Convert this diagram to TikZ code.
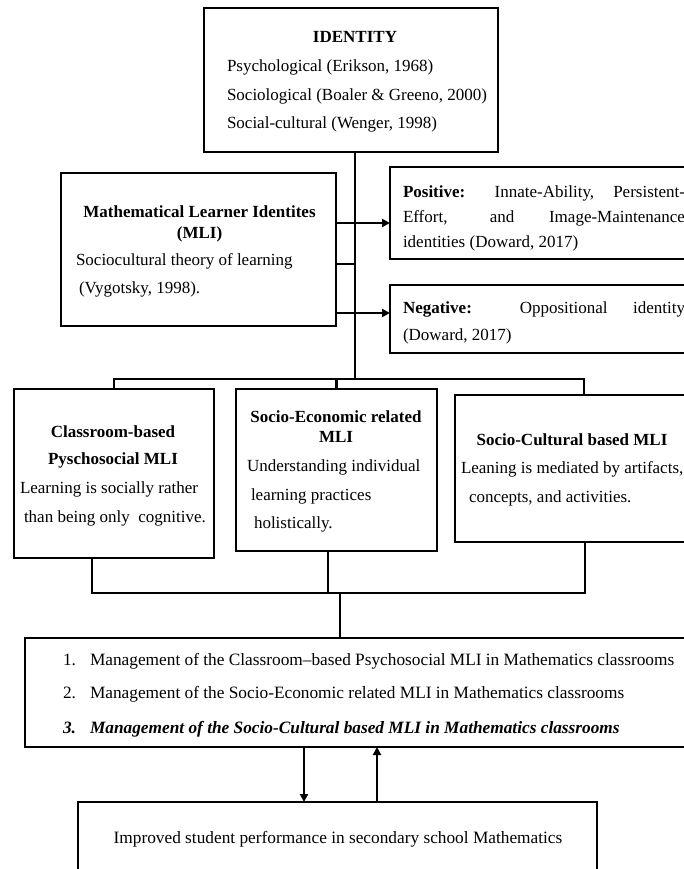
\documentclass[tikz,border=0pt]{standalone}
\usepackage{fontspec}
\setmainfont{Liberation Serif}
\usetikzlibrary{arrows.meta}
\tikzset{
  box/.style={draw, line width=2.6pt, inner sep=0pt, outer sep=0pt, anchor=north west, fill=white},
  conn/.style={line width=2.5pt, line cap=rect},
  arr/.style={line width=2.5pt, -{Triangle[length=8pt,width=8pt]}},
  txt/.style={inner sep=0pt, outer sep=0pt, font=\fontsize{17}{20}\selectfont},
  ttl/.style={txt, font=\fontsize{17}{20}\selectfont\bfseries, anchor=base},
  lt/.style={txt, anchor=base west},
  mg/.style={lt, font=\fontsize{17.3}{20}\selectfont},
  mgb/.style={lt, font=\fontsize{17.3}{20}\selectfont\bfseries\itshape}
}
\begin{document}
\begin{tikzpicture}[x=1pt,y=-1pt]
\clip (0,0) rectangle (684,869);
\fill[white] (0,0) rectangle (684,869);
% boxes
\node[box, minimum width=294pt, minimum height=144pt] (identity) at (204,8) {};
\node[box, minimum width=275pt, minimum height=153pt] (mli) at (61,173) {};
\node[box, minimum width=320pt, minimum height=92pt] (pos) at (390,167) {};
\node[box, minimum width=320pt, minimum height=68pt] (neg) at (390,285) {};
\node[box, minimum width=200pt, minimum height=169pt] (cls) at (14,389) {};
\node[box, minimum width=201pt, minimum height=162pt] (seco) at (236,389) {};
\node[box, minimum width=260pt, minimum height=147pt] (scul) at (455,395) {};
\node[box, minimum width=690pt, minimum height=109pt] (mgmt) at (25,638) {};
\node[box, minimum width=519pt, minimum height=90pt] (impr) at (78,802) {};
% identity text
\node[ttl] (idt) at (355,43) {IDENTITY};
\node[lt] (id1) at (227,72) {Psychological (Erikson, 1968)};
\node[lt] (id2) at (227,100.5) {Sociological (Boaler \& Greeno, 2000)};
\node[lt] (id3) at (227,129) {Social-cultural (Wenger, 1998)};
% mli text
\node[ttl] (mt1) at (199.5,217) {Mathematical Learner Identites};
\node[ttl] (mt2) at (199.5,238) {(MLI)};
\node[lt] (mt3) at (76,265) {Sociocultural theory of learning};
\node[lt] (mt4) at (79,293) {(Vygotsky, 1998).};
% positive / negative
\node[lt] (p1) at (403,197) {\makebox[282pt][s]{\textbf{Positive:} Innate-Ability, Persistent-}};
\node[lt] (p2) at (403,222) {\makebox[282pt][s]{Effort, and Image-Maintenance}};
\node[lt] (p3) at (403,247) {identities (Doward, 2017)};
\node[lt] (n1) at (403,313) {\makebox[282pt][s]{\textbf{Negative:} Oppositional identity}};
\node[lt] (n2) at (403,340) {(Doward, 2017)};
% three boxes
\node[ttl] (c1t) at (113,437) {Classroom-based};
\node[ttl] (c2t) at (113,464) {Pyschosocial MLI};
\node[lt] (c3t) at (20,493) {Learning is socially rather};
\node[lt] (c4t) at (24,522) {than being only\ \ cognitive.};
\node[ttl] (s1t) at (336,422) {Socio-Economic related};
\node[ttl] (s2t) at (336,442) {MLI};
\node[lt] (s3t) at (247,471) {Understanding individual};
\node[lt] (s4t) at (251,500) {learning practices};
\node[lt] (s5t) at (254,528) {holistically.};
\node[ttl] (u1t) at (572,445) {Socio-Cultural based MLI};
\node[lt] (u2t) at (461,473) {Leaning is mediated by artifacts,};
\node[lt] (u3t) at (469,502) {concepts, and activities.};
% management
\node[mg] (g1n) at (63,665) {1.};
\node[mg] (g1) at (90,665) {Management of the Classroom--based Psychosocial MLI in Mathematics classrooms};
\node[mg] (g2n) at (63,698) {2.};
\node[mg] (g2) at (90,698) {Management of the Socio-Economic related MLI in Mathematics classrooms};
\node[mgb] (g3n) at (63,733) {3.};
\node[mgb] (g3) at (90,733) {Management of the Socio-Cultural based MLI in Mathematics classrooms};
% improved
\node[txt, anchor=base, font=\fontsize{17.3}{20}\selectfont] (it) at (338,843) {Improved student performance in secondary school Mathematics};
% connector coordinates
\coordinate (t1) at (355,379);
\coordinate (b3x) at (584,379);
\coordinate (m1) at (355,264);
\coordinate (a1) at (0,223);
\coordinate (a2) at (0,313);
\coordinate (q1) at (92,593);
\coordinate (q2) at (328,593);
\coordinate (q3) at (585,593);
\coordinate (qb) at (340,593);
\coordinate (d1) at (304,0);
\coordinate (d2) at (377,0);
% connectors
\draw[conn] (identity.south -| t1) -- (t1);
\draw[conn] (m1 -| mli.east) -- (m1);
\draw[arr] (a1 -| mli.east) -- (a1 -| pos.west);
\draw[arr] (a2 -| mli.east) -- (a2 -| neg.west);
\draw[conn] (cls.north) -- (cls.north |- t1) -- (b3x) -- (b3x |- scul.north);
\draw[conn] (seco.north) -- (seco.north |- t1);
\draw[conn] (q1 |- cls.south) -- (q1) -- (q3) -- (q3 |- scul.south);
\draw[conn] (q2 |- seco.south) -- (q2);
\draw[conn] (qb) -- (qb |- mgmt.north);
\draw[arr] (d1 |- mgmt.south) -- (d1 |- impr.north);
\draw[arr] (d2 |- impr.north) -- (d2 |- mgmt.south);
\end{tikzpicture}
\end{document}
